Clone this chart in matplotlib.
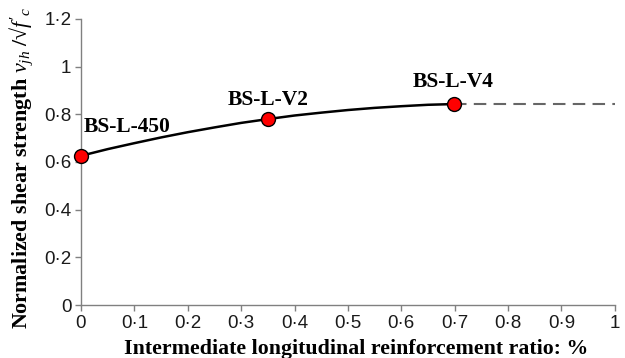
import matplotlib
matplotlib.use("Agg")
import matplotlib.pyplot as plt
from matplotlib.ticker import FuncFormatter, MultipleLocator

plt.rcParams['mathtext.fontset'] = 'custom'
plt.rcParams['mathtext.rm'] = 'Liberation Serif'
plt.rcParams['mathtext.it'] = 'Liberation Serif:italic'
plt.rcParams['mathtext.bf'] = 'Liberation Serif:bold'

# Test specimens
specimens = ["BS-L-450", "BS-L-V2", "BS-L-V4"]
spec_x = [0.0, 0.35, 0.698]
spec_y = [0.626, 0.780, 0.843]

# Solid trend curve
curve_x = [0.0, 0.05, 0.1, 0.15, 0.2, 0.25, 0.3, 0.35, 0.4, 0.45, 0.5, 0.55, 0.6, 0.65, 0.698]
curve_y = [0.626, 0.654, 0.679, 0.703, 0.725, 0.745, 0.764, 0.780, 0.795, 0.807, 0.818, 0.827, 0.834, 0.840, 0.843]

# Dashed extension
ext_x = [0.698, 1.0]
ext_y = [0.843, 0.843]

fig = plt.figure(figsize=(6.25, 3.58), dpi=100)
ax = fig.add_axes([0.1296, 0.148, 0.854, 0.799])

ax.plot(curve_x, curve_y, color='black', lw=1.8, zorder=2)
ax.plot(ext_x, ext_y, color='#666666', lw=1.5, dashes=(6, 3.5), zorder=2)
ax.plot(spec_x, spec_y, 'o', ms=10, mfc='#ff0000', mec='black', mew=1.0, zorder=3, clip_on=False)

label_off = [(0.005, 0.12, 'left'), (0.35, 0.082, 'center'), (0.698, 0.093, 'center')]
for name, x, y, (dx, dy, ha) in zip(specimens, spec_x, spec_y, label_off):
    tx = dx if ha == 'left' else x
    ax.text(tx, y + dy, name, ha=ha, va='center', fontsize=15.5, fontweight='bold',
            family='Liberation Serif')

ax.set_xlim(0, 1)
ax.set_ylim(0, 1.2)
ax.xaxis.set_major_locator(MultipleLocator(0.1))
ax.yaxis.set_major_locator(MultipleLocator(0.2))

def fmt(v, pos):
    s = f"{v:.1f}"
    if s.endswith(".0"):
        s = s[:-2]
    return s.replace(".", "\u00b7")

ax.xaxis.set_major_formatter(FuncFormatter(fmt))
ax.yaxis.set_major_formatter(FuncFormatter(fmt))

for side in ['top', 'right']:
    ax.spines[side].set_visible(False)
for side in ['left', 'bottom']:
    ax.spines[side].set_color('#808080')
    ax.spines[side].set_linewidth(1.0)

ax.tick_params(axis='both', direction='out', length=4, width=1.0, color='#808080',
               labelsize=13.5, labelcolor='#1a1a1a', pad=3)
for lab in ax.get_xticklabels() + ax.get_yticklabels():
    lab.set_family('Liberation Sans')

ax.set_xlabel("Intermediate longitudinal reinforcement ratio: %", fontsize=15.75,
              fontweight='bold', family='Liberation Serif')
ax.xaxis.set_label_coords(0.515, -0.118)
ax.set_ylabel("Normalized shear strength $v_{jh}$ /\u221a$f'_{c}$", fontsize=15.8,
              fontweight='bold', family=['Liberation Serif', 'DejaVu Serif'])
ax.yaxis.set_label_coords(-0.087, 0.48)

fig.savefig("out.png", dpi=100)
